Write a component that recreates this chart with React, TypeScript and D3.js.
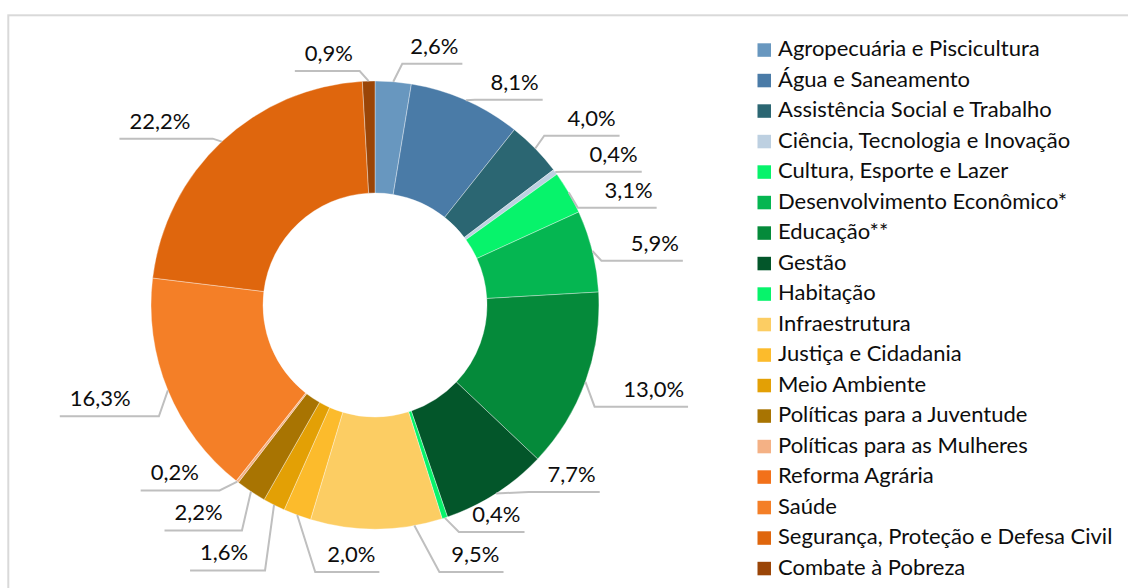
import React, { useEffect, useRef } from 'react';
import * as d3 from 'd3';

const categories = [
  'Agropecuária e Piscicultura',
  'Água e Saneamento',
  'Assistência Social e Trabalho',
  'Ciência, Tecnologia e Inovação',
  'Cultura, Esporte e Lazer',
  'Desenvolvimento Econômico*',
  'Educação**',
  'Gestão',
  'Habitação',
  'Infraestrutura',
  'Justiça e Cidadania',
  'Meio Ambiente',
  'Políticas para a Juventude',
  'Políticas para as Mulheres',
  'Reforma Agrária',
  'Saúde',
  'Segurança, Proteção e Defesa Civil',
  'Combate à Pobreza',
];

// percentual por área
const shares = [2.6, 8.1, 4.0, 0.4, 3.1, 5.9, 13.0, 7.7, 0.4, 9.5, 2.0, 1.6, 2.2, 0.2, 0, 16.3, 22.2, 0.9];

const colors = [
  '#6897bf', '#4a7ba7', '#2b6672', '#bdd0e1', '#07f36b', '#05b651',
  '#058a3a', '#03562a', '#07f36b', '#fccd63', '#fcbb2c', '#e3a005',
  '#a87402', '#f4b185', '#f2711a', '#f47f27', '#df660d', '#9a4507',
];

const W = 1128;
const H = 588;
const cx = 375;
const cy = 305;
const R = 224;
const r0 = 112;
const RL = 250;
const RE = 242;
const FLOOR = 572;
const FONT = 'Lato, "Open Sans", sans-serif';
const FS = 22;

const ptBR = d3.formatLocale({ decimal: ',', thousands: '.', grouping: [3], currency: ['R$', ''] });
const fmt = ptBR.format('.1f');

type Lbl = {
  text: string; a: number; a0: number; a1: number; ax: number; ay: number; ex: number; ey: number;
  group: string; fixed: boolean; w: number; node: any;
};

const relax = (list: Lbl[], gapOf: (y: number) => number) => {
  const col = list.slice().sort((p, q) => p.ey - q.ey || (p.fixed ? 1 : -1));
  for (let k = 0; k < 300; k++) {
    for (let i = 1; i < col.length; i++) {
      const lo = col[i - 1];
      const hi = col[i];
      const gap = gapOf((lo.ey + hi.ey) / 2);
      const diff = hi.ey - lo.ey;
      if (diff < gap) {
        const m = gap - diff;
        if (lo.fixed && !hi.fixed) hi.ey += m;
        else if (hi.fixed && !lo.fixed) lo.ey -= m;
        else if (!lo.fixed && !hi.fixed) { hi.ey += m / 2; lo.ey -= m / 2; }
      }
    }
    col.forEach(d => { if (!d.fixed && d.ey > FLOOR) d.ey = FLOOR; });
  }
};

const App = () => {
  const svgRef = useRef<SVGSVGElement>(null);

  useEffect(() => {
    const svg = d3.select(svgRef.current);
    svg.selectAll('*').remove();

    svg.append('rect')
      .attr('x', 8.3).attr('y', 15.3)
      .attr('width', 1400).attr('height', 800)
      .attr('fill', 'white')
      .attr('stroke', '#d9d9d9').attr('stroke-width', 2);

    const pie = d3.pie<number>().sort(null).value(d => d);
    const arcs = pie(shares);
    const arc = d3.arc<d3.PieArcDatum<number>>().innerRadius(r0).outerRadius(R);

    const g = svg.append('g').attr('transform', `translate(${cx},${cy})`);
    g.selectAll('path')
      .data(arcs)
      .enter()
      .append('path')
      .attr('d', arc)
      .attr('fill', (d, i) => colors[i])
      .attr('stroke', 'rgba(255,255,255,0.6)')
      .attr('stroke-width', 0.6);

    const lg = svg.append('g');
    const lines = lg.append('g');

    // rótulos: centro ideal em RL sobre o ângulo médio, linha guia por baixo do texto
    const items: Lbl[] = arcs.filter(d => d.value > 0).map(d => {
      const a = (d.startAngle + d.endAngle) / 2;
      const s = Math.sin(a);
      const c = -Math.cos(a);
      const deg = (a * 180) / Math.PI;
      const group = deg > 175 && deg < 205 ? 'bottom' : s > 0 ? 'right' : 'left';
      const text = fmt(d.value) + '%';
      const node = lg.append('text')
        .attr('font-family', FONT)
        .attr('font-size', FS)
        .attr('fill', '#0d0d0d')
        .text(text);
      return {
        text,
        a,
        a0: d.startAngle,
        a1: d.endAngle,
        ax: cx + R * s,
        ay: cy + R * c,
        ex: 0,
        ey: cy + RL * c + 16,
        group,
        fixed: group === 'bottom',
        w: (node.node() as SVGTextElement).getComputedTextLength(),
        node,
      };
    });

    // linha de baixo: rótulos lado a lado, texto à direita
    const bottom = items.filter(d => d.group === 'bottom').sort((p, q) => p.ax - q.ax);
    let lastEnd = -Infinity;
    bottom.forEach(d => {
      d.ey = FLOOR;
      d.ex = Math.max(d.ax + 18, lastEnd + 60);
      lastEnd = d.ex + 12 + d.w + 4;
      // desloca a âncora ao longo do arco, dentro da fatia
      const target = Math.max(-1, Math.min(1, (d.ex - 25 - cx) / R));
      let th = Math.PI - Math.asin(target);
      th = Math.max(d.a0 + 0.01, Math.min(d.a1 - 0.01, th));
      if (d.ex - 25 > d.ax) {
        d.ax = cx + R * Math.sin(th);
        d.ay = cy - R * Math.cos(th);
      }
    });

    const gapOf = (y: number) => (y > cy ? 40 : 36);
    relax(items.filter(d => d.group === 'right').concat(bottom), gapOf);
    relax(items.filter(d => d.group === 'left'), gapOf);

    items.forEach(d => {
      const dy = d.ey - cy;
      const dx = dy > 0 ? Math.sqrt(Math.max(RE * RE - dy * dy, 0)) : 0;
      if (d.group === 'right') d.ex = Math.max(d.ax + 9, cx + dx);
      if (d.group === 'left') d.ex = Math.min(d.ax - 9, cx - dx);
    });

    items.forEach(d => {
      const off = 6 + 24 * Math.abs(Math.sin(d.a));
      let x1;
      d.node.attr('y', d.ey - 10);
      if (d.group === 'left') {
        d.node.attr('x', d.ex - off).attr('text-anchor', 'end');
        x1 = d.ex - off - d.w - 10;
      } else {
        const o = d.group === 'bottom' ? 12 : off;
        d.node.attr('x', d.ex + o).attr('text-anchor', 'start');
        x1 = d.ex + o + d.w + 4;
      }
      lines.append('path')
        .attr('d', `M${d.ax},${d.ay}L${d.ex},${d.ey}L${x1},${d.ey}`)
        .attr('fill', 'none')
        .attr('stroke', '#bfbfbf')
        .attr('stroke-width', 2);
    });

    // legenda
    const leg = svg.append('g');
    const y = d3.scaleBand().domain(categories).range([43.3, 43.3 + 30.5 * categories.length]);
    categories.forEach((name, i) => {
      leg.append('rect')
        .attr('x', 757.5)
        .attr('y', y(name))
        .attr('width', 13.5)
        .attr('height', 13.5)
        .attr('fill', colors[i]);
      leg.append('text')
        .attr('x', 778)
        .attr('y', (y(name) as number) + 13)
        .attr('font-family', FONT)
        .attr('font-size', FS)
        .attr('fill', '#0d0d0d')
        .text(name);
    });
  }, []);

  return (
    <div style={{ position: 'absolute', left: 0, top: 0 }}>
      <svg ref={svgRef} width={W} height={H} style={{ display: 'block' }}></svg>
    </div>
  );
};

export default App;
